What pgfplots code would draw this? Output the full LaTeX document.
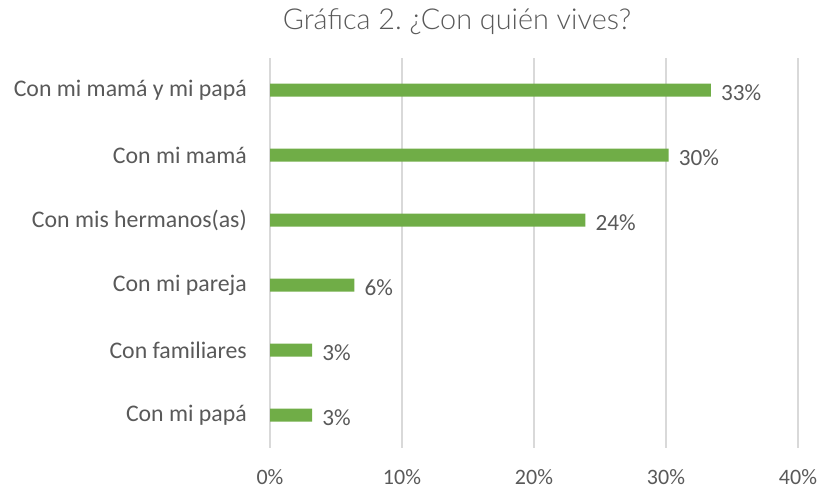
\documentclass[border=0pt]{standalone}
\usepackage{fontspec}
\setmainfont{Carlito}
\newfontfamily\titlefont{Lato Light}
\usepackage{pgfplots}
\pgfplotsset{compat=1.18}
\definecolor{bargreen}{HTML}{70AD47}
\definecolor{gridgray}{HTML}{D9D9D9}
\definecolor{txt}{HTML}{595959}
\begin{document}
\begin{tikzpicture}[x=1pt,y=1pt]
\useasboundingbox (0,0) rectangle (821,488);
\begin{axis}[
  at={(270pt,40.5pt)}, anchor=south west,
  scale only axis, width=528pt, height=390pt,
  xbar, bar width=13pt,
  xmin=0, xmax=40, ymin=-0.5, ymax=5.5,
  xtick={0,10,20,30,40},
  xticklabel={\pgfmathprintnumber{\tick}\%},
  /pgf/number format/assume math mode=true,
  ytick={0,1,2,3,4,5},
  yticklabels={Con mi papá,Con familiares,Con mi pareja,Con mis hermanos(as),Con mi mamá,Con mi mamá y mi papá},
  axis line style={draw=none},
  major tick length=0pt,
  xmajorgrids, grid style={gridgray, line width=1.2pt},
  xticklabel style={font=\fontsize{22}{24}\selectfont, text=txt, yshift=-18pt},
  yticklabel style={font=\fontsize{23.8}{26}\selectfont, text=txt, inner sep=0pt, xshift=-23pt},
  nodes near coords, point meta=explicit symbolic,
  every node near coord/.append style={font=\fontsize{23.2}{25}\selectfont, text=txt, anchor=west, inner sep=0pt, xshift=10pt, yshift=-3pt},
]
\addplot[fill=bargreen, draw=none] coordinates {
  (3.2,0) [3\%]
  (3.2,1) [3\%]
  (6.4,2) [6\%]
  (23.9,3) [24\%]
  (30.2,4) [30\%]
  (33.4,5) [33\%]
};
\end{axis}
\node[text=txt] at (457,466) {\titlefont\fontsize{28.8}{30}\selectfont Gráfica 2.\ ¿Con quién vives?};
\end{tikzpicture}
\end{document}
